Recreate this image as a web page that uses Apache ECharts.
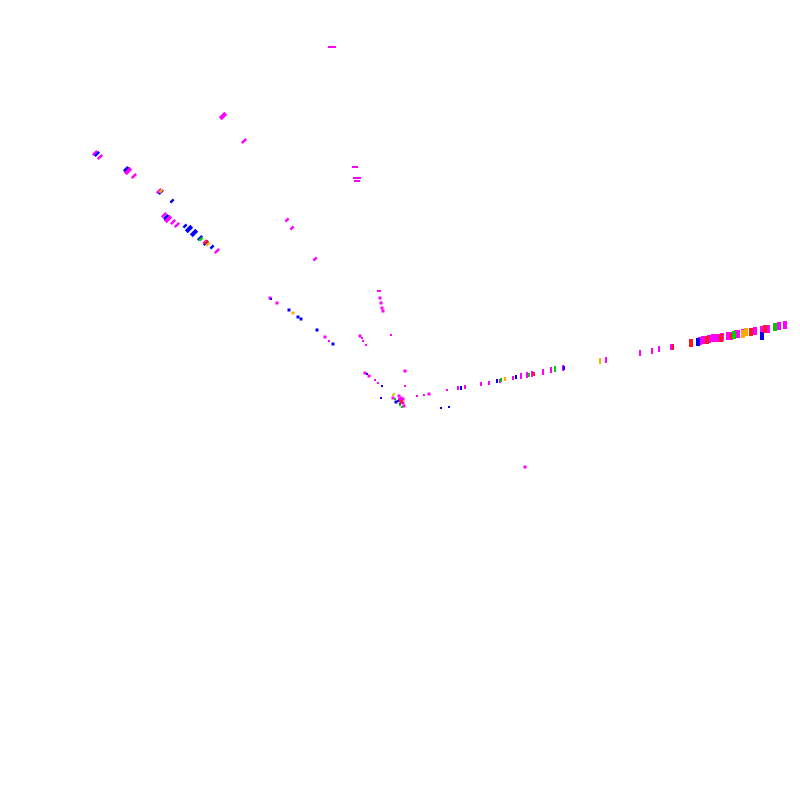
<!DOCTYPE html>
<html><head><meta charset="utf-8">
<script src="https://cdn.jsdelivr.net/npm/echarts@6/dist/echarts.min.js"></script>
<style>html,body{margin:0;padding:0;background:#fff}#c{width:800px;height:800px}</style>
</head><body><div id="c"></div>
<script>
// Data points: [x, y, magnitude]
const magentaStreaks = [[95,153,2],[100,157,2],[128,171,3],[134,176,2],[159,191,2],[164,215,2],[168,219,3],[173,222,2],[177,225,2],[205,242,1],[217,251,2],[223,116,3],[244,141,2],[287,220,1],[292,228,1],[315,259,1]];
const blueStreaks = [[97,154,2],[126,169,2],[161,192,2],[172,201,1],[166,217,2],[185,226,1],[189,229,3],[194,233,3],[200,238,2],[206,243,2],[212,247,1]];
const greenStreaks = [[201,239,1]];
const orangeStreaks = [[161,191,1],[208,244,1]];
const redStreaks = [[206,242,1]];

const magentaFlat = [[332,47,3],[355,167,2],[357,178,3],[357,181,2],[379,291,1]];

const magentaDots = [[270,298,2],[277,303,2],[325,337,2],[329,341,1],[365,373,2],[369,376,2],[375,380,1],[378,383,1],[380,298,2],[381,303,2],[382,308,2],[383,311,2],[405,371,2],[405,386,1],[417,396,1],[424,395,1],[429,394,2],[447,390,1],[391,335,1],[360,336,2],[362,338,1],[363,341,1],[366,345,1],[393,398,2],[399,396,2],[403,399,2],[403,403,2],[404,406,2],[400,400,3],[401,398,2],[525,467,2]];
const blueDots = [[271,299,1],[289,310,2],[298,317,2],[301,319,2],[317,330,2],[333,344,2],[367,374,1],[382,386,1],[381,398,1],[441,408,1],[449,407,1],[396,402,2],[398,401,1],[400,404,1]];
const redDots = [[401,402,2],[402,401,1]];
const greenDots = [[400,405,1],[402,407,1],[395,399,1]];
const yellowDots = [[394,394,1],[393,395,1]];
const orangeDots = [[293,313,2]];

const magentaBars = [[458,388,1],[465,387,1],[481,384,1],[489,383,1],[500,381,1],[513,378,1],[516,377,1],[521,376,2],[527,375,2],[532,374,2],[543,372,2],[551,370,2],[563,368,2],[606,360,2],[640,353,2],[652,351,2],[659,349,2],[671,347,2],[700,341,3],[703,340,3],[709,339,3],[713,338,3],[717,338,3],[722,337,3],[728,336,3],[731,336,3],[736,334,3],[738,334,3],[743,333,3],[746,332,3],[755,331,3],[762,330,3],[768,329,3],[779,326,3],[785,325,3]];
const blueBars = [[461,388,1],[497,381,1],[505,379,1],[516,377,1],[564,368,1],[698,342,3],[762,336,3]];
const redBars = [[534,374,1],[673,347,2],[691,343,3],[707,340,3],[721,338,3],[731,336,2],[751,332,3],[765,329,3]];
const greenBars = [[501,380,1],[529,375,1],[555,369,2],[734,335,3],[775,327,3]];
const orangeBars = [[505,379,1],[600,361,2],[743,334,3],[746,332,3]];

const COLORS = {magenta:'#ff00ff', blue:'#0000ff', red:'#ff1a1a', green:'#00cc00', orange:'#ffaa00', yellow:'#cccc00'};

const KINDS = {
  streak: {size: v => [v[2] >= 3 ? 4 : 2.5, 3 + v[2]*1.6], rotate: -45},
  flat:   {size: v => [2 + v[2]*2, 2], rotate: 0},
  dot:    {size: v => [v[2] + 1, v[2] + 1], rotate: 0},
  bar:    {size: v => [v[2] >= 3 ? 4 : 2, 2 + v[2]*2], rotate: 0}
};

function mk(data, color, kind) {
  return {
    type: 'scatter', data: data, symbol: 'rect',
    symbolSize: KINDS[kind].size, symbolRotate: KINDS[kind].rotate,
    itemStyle: {color: COLORS[color], opacity: 1}, silent: true
  };
}

const chart = echarts.init(document.getElementById('c'), null, {renderer: 'canvas'});
chart.setOption({
  animation: false,
  grid: {left: 0, right: 0, top: 0, bottom: 0},
  xAxis: {type: 'value', min: 0, max: 800, show: false},
  yAxis: {type: 'value', min: 0, max: 800, inverse: true, show: false},
  series: [
    mk(magentaStreaks, 'magenta', 'streak'),
    mk(blueStreaks, 'blue', 'streak'),
    mk(greenStreaks, 'green', 'streak'),
    mk(orangeStreaks, 'orange', 'streak'),
    mk(redStreaks, 'red', 'streak'),
    mk(magentaFlat, 'magenta', 'flat'),
    mk(magentaDots, 'magenta', 'dot'),
    mk(blueDots, 'blue', 'dot'),
    mk(redDots, 'red', 'dot'),
    mk(greenDots, 'green', 'dot'),
    mk(yellowDots, 'yellow', 'dot'),
    mk(orangeDots, 'orange', 'dot'),
    mk(magentaBars, 'magenta', 'bar'),
    mk(blueBars, 'blue', 'bar'),
    mk(redBars, 'red', 'bar'),
    mk(greenBars, 'green', 'bar'),
    mk(orangeBars, 'orange', 'bar')
  ]
});
</script></body></html>
